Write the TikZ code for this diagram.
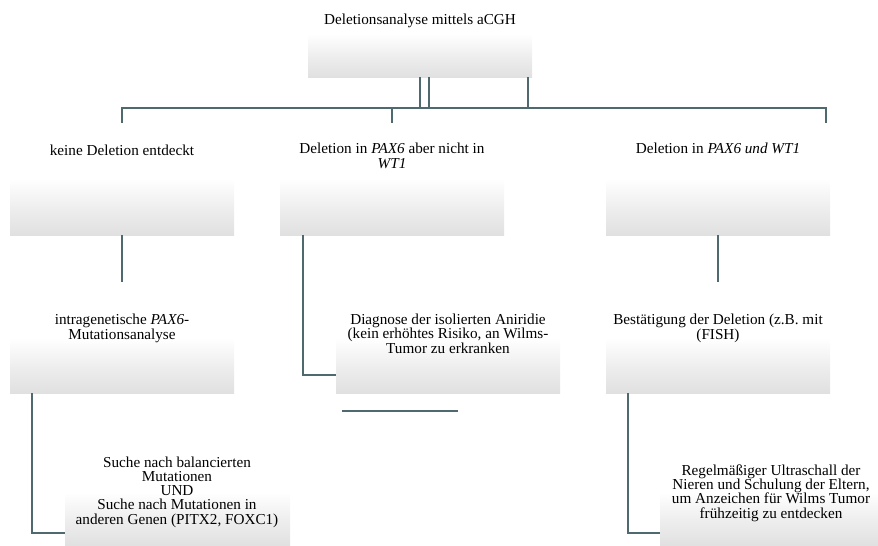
\documentclass[tikz,border=0pt]{standalone}
\usepackage{fontspec}
\setmainfont{Liberation Serif}
\definecolor{linec}{RGB}{78,106,110}
\pgfdeclareverticalshading{boxshade}{100bp}{color(0bp)=(black!12); color(25bp)=(black!12); color(38bp)=(black!7); color(53bp)=(white); color(100bp)=(white)}
\tikzset{
  box/.style={shade, shading=boxshade, draw=none, inner sep=0pt, outer sep=0pt, minimum width=#1, anchor=south west},
  txt/.style={align=center, inner sep=0pt, font=\fontsize{15.2}{14.1}\selectfont, text=black},
  conn/.style={draw=linec, line width=1.6pt},
}
\begin{document}
\begin{tikzpicture}[x=1pt,y=-1pt]
\useasboundingbox (0,0) rectangle (878,546);
% boxes
\node[box=224pt, minimum height=77pt] (b0) at (308,77) {};
\node[box=224pt, minimum height=100pt] (b1) at (10,235) {};
\node[box=224pt, minimum height=100pt] (b2) at (280,235) {};
\node[box=224pt, minimum height=100pt] (b3) at (606,235) {};
\node[box=224pt, minimum height=98pt] (b4) at (10,393) {};
\node[box=224pt, minimum height=98pt] (b5) at (336,393) {};
\node[box=224pt, minimum height=98pt] (b6) at (606,393) {};
\node[box=225pt, minimum height=96pt] (b7) at (65,546) {};
\node[box=218pt, minimum height=96pt] (b8) at (660,546) {};
% texts (anchor base = baseline of last line)
\node[txt, anchor=base] (t0) at (420,24) {Deletionsanalyse mittels aCGH};
\node[txt, anchor=base] (t1) at (122,155) {keine Deletion entdeckt};
\node[txt, anchor=base] (t2) at (392,168) {Deletion in \textit{PAX6} aber nicht in\\\textit{WT1}};
\node[txt, anchor=base] (t3) at (718,153) {Deletion in \textit{PAX6 und WT1}};
\node[txt, anchor=base] (t4) at (122,339) {intragenetische \textit{PAX6}-\\Mutationsanalyse};
\node[txt, anchor=base] (t5) at (448,353) {Diagnose der isolierten Aniridie\\(kein erhöhtes Risiko, an Wilms-\\Tumor zu erkranken};
\node[txt, anchor=base] (t6) at (718,339) {Bestätigung der Deletion (z.B. mit\\(FISH)};
\node[txt, anchor=base] (t7) at (177,524) {Suche nach balancierten\\Mutationen\\UND\\Suche nach Mutationen in\\anderen Genen (PITX2, FOXC1)};
\node[txt, anchor=base] (t8) at (771,518) {Regelmäßiger Ultraschall der\\Nieren und Schulung der Eltern,\\um Anzeichen für Wilms Tumor\\frühzeitig zu entdecken};
% connectors
\coordinate (busL) at (122,108);
\coordinate (busR) at (826,108);
\draw[conn] (b0.south -| 420,0) -- (420,108);
\draw[conn] (b0.south -| 429,0) -- (429,108);
\draw[conn] (b0.south -| 528,0) -- (528,108);
\draw[conn] (122,123) -- (busL) -- (busR) -- (826,123);
\draw[conn] (392,108) -- (392,123);
\draw[conn] (b1.south) -- (122,282);
\draw[conn] (b2.south -| 303,0) -- (303,375) -- (b5.west |- 0,375);
\draw[conn] (b3.south) -- (718,282);
\draw[conn] (342,411) -- (458,411);
\draw[conn] (b4.south -| 32,0) -- (32,533) -- (b7.west |- 0,533);
\draw[conn] (b6.south -| 628,0) -- (628,533) -- (b8.west |- 0,533);
\end{tikzpicture}
\end{document}
